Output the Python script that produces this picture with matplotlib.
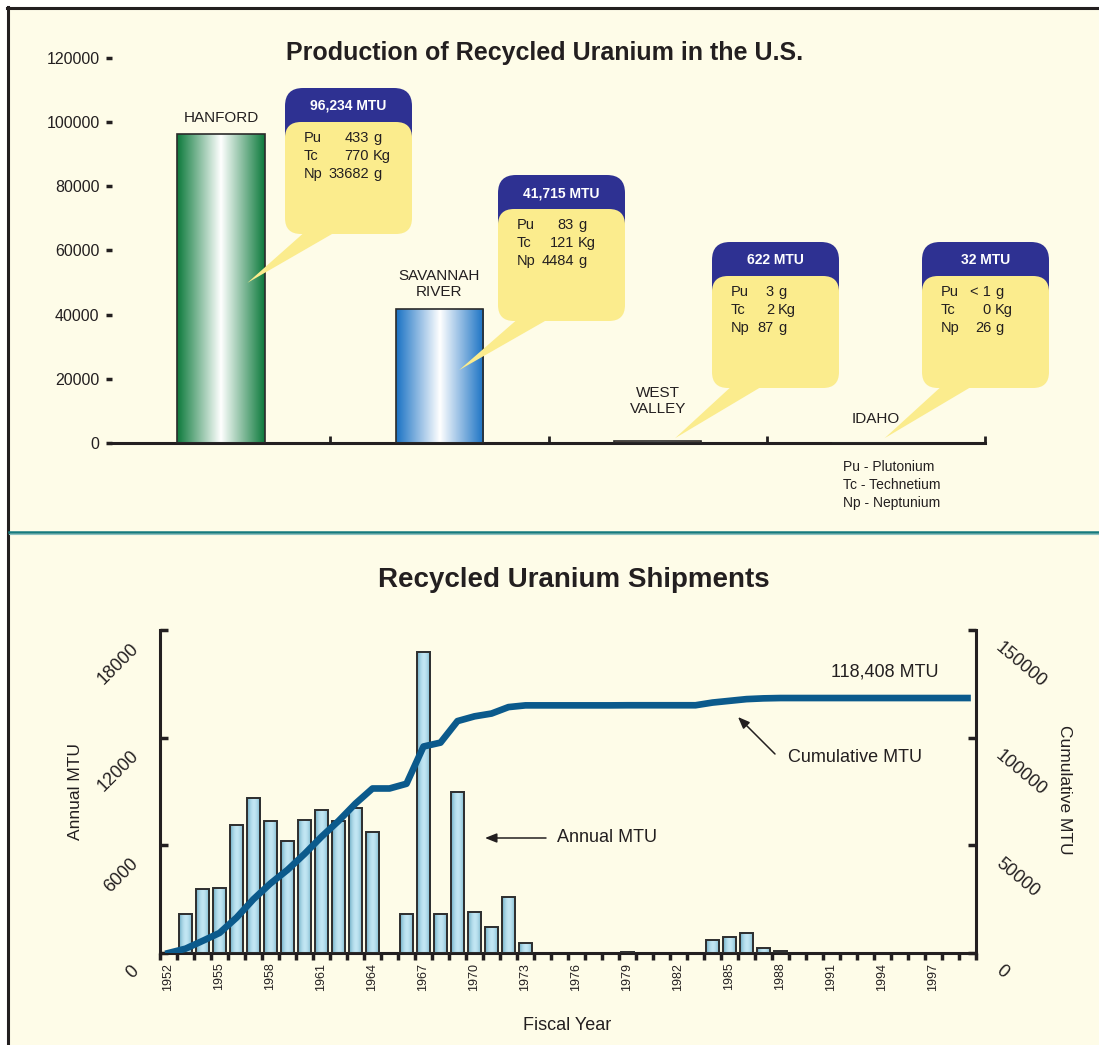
import numpy as np
import matplotlib
matplotlib.use('Agg')
import matplotlib.pyplot as plt
import matplotlib.transforms as mtransforms
from matplotlib.patches import FancyBboxPatch, Polygon, Rectangle, FancyArrowPatch
from matplotlib.lines import Line2D
from matplotlib.colors import to_rgb

plt.rcParams['font.family'] = ['Liberation Sans', 'DejaVu Sans']
INK = '#231f20'

# production of recycled uranium by site
sites = ['HANFORD', 'SAVANNAH\nRIVER', 'WEST\nVALLEY', 'IDAHO']
site_mtu = [96234, 41715, 622, 32]
mtu_labels = ['96,234 MTU', '41,715 MTU', '622 MTU', '32 MTU']
pu_g = ['433', '83', '3', '< 1']
tc_kg = ['770', '121', '2', '0']
np_g = ['33682', '4484', '87', '26']
site_colors = ['#0d7a3c', '#1a72c4', '#e4b08a', '#868c9a']
element_names = ['Pu - Plutonium', 'Tc - Technetium', 'Np - Neptunium']
site_ticks = [0, 20000, 40000, 60000, 80000, 100000, 120000]

# recycled uranium shipments per fiscal year
ship_years = [1953, 1954, 1955, 1956, 1957, 1958, 1959, 1960, 1961, 1962, 1963, 1964,
              1966, 1967, 1968, 1969, 1970, 1971, 1972, 1973, 1979,
              1984, 1985, 1986, 1987, 1988]
annual_mtu = [2200, 3550, 3650, 7150, 8650, 7350, 6250, 7400, 7950, 7350, 8100, 6750,
              2200, 16800, 2200, 9000, 2300, 1450, 3100, 550, 60,
              700, 880, 1120, 260, 100]
cum_years = list(range(1952, 2000))
cumulative_mtu = [0, 2000, 5600, 9300, 16400, 25000, 32300, 38600, 46000, 54000,
                  61300, 69400, 76400, 76400, 78600, 95900, 97700, 107700, 109900, 111200,
                  114200, 115000, 115000, 115000, 115000, 115000, 115000, 115050, 115050, 115050,
                  115050, 115050, 116300, 117100, 117900, 118250, 118408, 118408, 118408, 118408,
                  118408, 118408, 118408, 118408, 118408, 118408, 118408, 118408]
year_ticks = list(range(1952, 1998, 3))
annual_ticks = [0, 6000, 12000, 18000]
cum_ticks = [0, 50000, 100000, 150000]

W, H = 1099, 1045
fig = plt.figure(figsize=(W / 100, H / 100), dpi=100)
fig.patch.set_facecolor('white')
# pixel coordinates, origin top-left
px = mtransforms.Affine2D().scale(1 / W, -1 / H).translate(0, 1) + fig.transFigure

fig.add_artist(Rectangle((9, 9), W, H, transform=px, fc='#fefce8', ec='none', zorder=-10))
fig.add_artist(Line2D([8, 8], [7, H], transform=px, color=INK, lw=2.2))
fig.add_artist(Line2D([7, W], [8, 8], transform=px, color=INK, lw=2.2))
fig.add_artist(Line2D([9, W], [532, 532], transform=px, color='#157a7e', lw=1.8))
fig.add_artist(Line2D([9, W], [534, 534], transform=px, color='#8cc0c0', lw=0.8))


def hgrad(color, mid=(1.0, 1.0, 1.0), power=1.0):
    t = np.abs(np.linspace(-1, 1, 200)) ** power
    c0 = np.array(to_rgb(color))
    c1 = np.array(mid)
    row = c1 + (c0 - c1) * t[:, None]
    return row[None, :, :]


# ---- top: production by site ----
ax1 = fig.add_axes([112 / W, 1 - 443 / H, 873 / W, 385 / H])
ax1.set_facecolor('none')
xpos = np.arange(len(sites)) + 0.5
bars = ax1.bar(xpos, site_mtu, width=0.40, facecolor='none', edgecolor='#2b2b2b', lw=1.2, zorder=3)
for b, c in zip(bars, site_colors):
    ax1.imshow(hgrad(c), extent=[b.get_x(), b.get_x() + b.get_width(), 0, b.get_height()],
               aspect='auto', zorder=2, interpolation='bilinear')
ax1.set_xlim(0, 4)
ax1.set_ylim(0, 120000)
ax1.set_yticks(site_ticks)
ax1.set_yticklabels([str(v) for v in site_ticks])
ax1.set_xticks([1, 2, 3, 4])
ax1.tick_params(axis='x', direction='in', length=5, width=2, color=INK, labelbottom=False)
ax1.tick_params(axis='y', direction='out', length=4, width=2.5, color=INK, labelsize=11.5,
                labelcolor=INK, pad=5)
for s in ['left', 'top', 'right']:
    ax1.spines[s].set_visible(False)
ax1.spines['bottom'].set_linewidth(2.2)
ax1.spines['bottom'].set_color(INK)

fig.text(545, 53, 'Production of Recycled Uranium in the U.S.', transform=px, ha='center',
         va='center', fontsize=18, weight='bold', color=INK)

site_label_y = [118, 284, 401, 419]
lab_tr = mtransforms.blended_transform_factory(ax1.transData, px)
for x, name, y in zip(xpos, sites, site_label_y):
    fig.text(x, y, name, transform=lab_tr, ha='center', va='center', fontsize=11,
             color=INK, linespacing=1.25)

for j, name in enumerate(element_names):
    fig.text(843, 467 + 18 * j, name, transform=px, ha='left', va='center', fontsize=10, color=INK)

# callout boxes
navy = '#2e3192'
yellow = '#fbec8d'
callout_xy = [(285, 88), (498, 175), (712, 242), (922, 242)]
num_col = [84, 76, 62, 69]
tip_dx = [0.12, 0.09, 0.08, 0.04]
tip_y = [49900, 22700, 1500, 1500]
bw, bh = 127, 146
for i in range(len(sites)):
    L, T = callout_xy[i]
    tx, ty = ax1.transData.transform((xpos[i] + tip_dx[i], tip_y[i]))
    fig.add_artist(Polygon([(L + 22, T + bh - 4), (L + 54, T + bh - 4), (tx, H - ty)], closed=True,
                           transform=px, fc=yellow, ec='none', zorder=5))
    fig.add_artist(FancyBboxPatch((L, T), bw, 62, boxstyle='round,pad=0,rounding_size=18',
                                  transform=px, fc=navy, ec='none', zorder=5))
    fig.add_artist(FancyBboxPatch((L, T + 34), bw, bh - 34, boxstyle='round,pad=0,rounding_size=16',
                                  transform=px, fc=yellow, ec='none', zorder=6))
    fig.text(L + bw / 2, T + 18, mtu_labels[i], transform=px, color='white', weight='bold',
             fontsize=10, ha='center', va='center', zorder=7)
    rows = zip(['Pu', 'Tc', 'Np'], [pu_g[i], tc_kg[i], np_g[i]], ['g', 'Kg', 'g'])
    for j, (sym, num, unit) in enumerate(rows):
        yy = T + 50 + 18 * j
        fig.text(L + 19, yy, sym, transform=px, ha='left', va='center', fontsize=10.5, color=INK, zorder=7)
        fig.text(L + num_col[i], yy, num, transform=px, ha='right', va='center', fontsize=10.5,
                 color=INK, zorder=7)
        fig.text(L + num_col[i] + 4, yy, unit, transform=px, ha='left', va='center', fontsize=10.5,
                 color=INK, zorder=7)

# ---- bottom: shipments ----
ax2 = fig.add_axes([160 / W, 1 - 953 / H, 816 / W, 323 / H])
ax2.set_facecolor('none')
sbars = ax2.bar(ship_years, annual_mtu, width=0.82, facecolor='none', edgecolor='#2e2e2e',
                lw=1.4, zorder=3)
for b in sbars:
    ax2.imshow(hgrad('#68a9c2', mid=to_rgb('#c2e6f3'), power=1.8),
               extent=[b.get_x(), b.get_x() + b.get_width(), 0, b.get_height()],
               aspect='auto', zorder=2, interpolation='bilinear')
ax2.set_xlim(1951.5, 1999.5)
ax2.set_ylim(0, 18000)
ax2.set_xticks(np.arange(1951.5, 2000, 1))
ax2.set_xticks(year_ticks, minor=True)
ax2.set_xticklabels([str(y) for y in year_ticks], minor=True, rotation=90)
ax2.tick_params(axis='x', which='major', direction='out', length=5, width=2.5, color=INK,
                labelbottom=False)
ax2.tick_params(axis='x', which='minor', length=0, pad=7, labelsize=9, labelcolor=INK)
ax2.set_yticks(annual_ticks)
ax2.tick_params(axis='y', direction='in', length=6, width=2.5, color=INK, labelleft=False)
ax2.spines['top'].set_visible(False)
ax2.spines['right'].set_visible(False)
for s in ['left', 'bottom']:
    ax2.spines[s].set_linewidth(2.2)
    ax2.spines[s].set_color(INK)

ax3 = ax2.twinx()
ax3.plot(cum_years, cumulative_mtu, color='#0b5a8c', lw=4.8, zorder=4)
ax3.set_ylim(0, 150000)
ax3.set_yticks(cum_ticks)
ax3.tick_params(axis='y', direction='in', length=6, width=2.5, color=INK, labelright=False)
for s in ['left', 'top', 'bottom']:
    ax3.spines[s].set_visible(False)
ax3.spines['right'].set_linewidth(2.2)
ax3.spines['right'].set_color(INK)

off_l = mtransforms.offset_copy(ax2.get_yaxis_transform(), fig=fig, x=-24, y=-16, units='dots')
for v in annual_ticks:
    ax2.text(0, v, str(v), transform=off_l, rotation=45, rotation_mode='anchor', ha='right',
             va='center', fontsize=13, color=INK)
off_r = mtransforms.offset_copy(ax3.get_yaxis_transform(), fig=fig, x=22, y=-16, units='dots')
for v in cum_ticks:
    ax3.text(1, v, str(v), transform=off_r, rotation=-40, rotation_mode='anchor', ha='left',
             va='center', fontsize=13, color=INK)

fig.text(574, 580, 'Recycled Uranium Shipments', transform=px, ha='center', va='center',
         fontsize=20, weight='bold', color=INK)
fig.text(75, 792, 'Annual MTU', transform=px, rotation=90, ha='center', va='center',
         fontsize=12.5, color=INK)
fig.text(1065, 790, 'Cumulative MTU', transform=px, rotation=-90, ha='center', va='center',
         fontsize=12.5, color=INK)
fig.text(567, 1025, 'Fiscal Year', transform=px, ha='center', va='center', fontsize=13, color=INK)

fig.text(885, 672, '118,408 MTU', transform=px, ha='center', va='center', fontsize=13, color=INK)
fig.text(788, 757, 'Cumulative MTU', transform=px, ha='left', va='center', fontsize=13, color=INK)
fig.text(557, 838, 'Annual MTU', transform=px, ha='left', va='center', fontsize=13, color=INK)
for a, b in [((775, 754), (738, 717)), ((546, 838), (485, 838))]:
    fig.add_artist(FancyArrowPatch(a, b, transform=px, arrowstyle='-|>,head_length=0.5,head_width=0.2',
                                   mutation_scale=14, lw=1.1, color=INK, shrinkA=0, shrinkB=0))

fig.savefig('out.png', dpi=100)
